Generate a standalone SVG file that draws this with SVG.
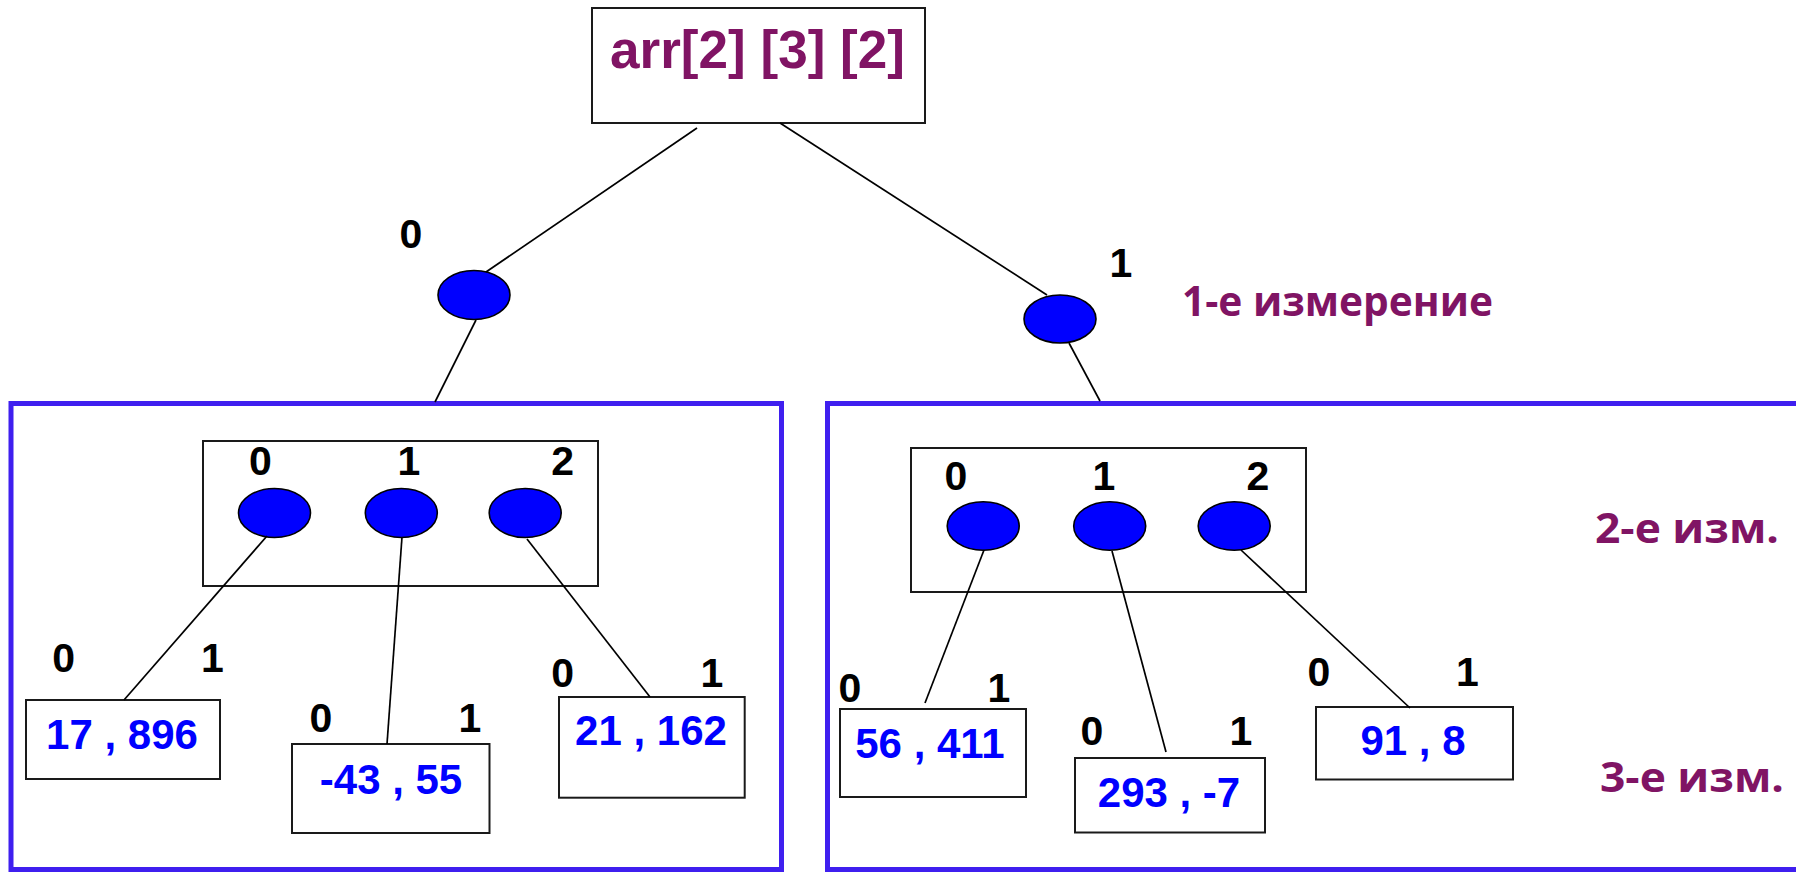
<svg xmlns="http://www.w3.org/2000/svg" width="1796" height="872" viewBox="0 0 1796 872">
<style>
.box{fill:#fff;stroke:#1a1a1a;stroke-width:2}
.grp{fill:none;stroke:#3f1fef;stroke-width:5}
.dot{fill:#0000ff;stroke:#000;stroke-width:1.6}
.ln{stroke:#000;stroke-width:1.7;fill:none}
.idx{font-family:"Liberation Sans",Arial,sans-serif;font-weight:bold;font-size:41px;fill:#000;text-anchor:middle}
.val{font-family:"Liberation Sans",Arial,sans-serif;font-weight:bold;font-size:42px;fill:#0000ff;text-anchor:middle}
.ttl{font-family:"Liberation Sans",Arial,sans-serif;font-weight:bold;font-size:53px;fill:#801464}
.dim{font-family:"Open Sans","Noto Sans",sans-serif;font-weight:bold;font-size:42px;fill:#801464}
</style>
<rect width="1796" height="872" fill="#fff"/>

<g id="root">
<rect class="box" x="592" y="8" width="333" height="115"/>
<text class="ttl" x="610" y="68" textLength="295" lengthAdjust="spacingAndGlyphs">arr[2] [3] [2]</text>
</g>

<g id="dim1-0">
<ellipse class="dot" cx="474" cy="295" rx="36" ry="24.5"/>
<text class="idx" x="411" y="248">0</text>
</g>
<g id="dim1-1">
<ellipse class="dot" cx="1060" cy="319" rx="36" ry="24"/>
<text class="idx" x="1121" y="277">1</text>
</g>

<g id="group-left">
<rect class="grp" x="11" y="403.5" width="770.5" height="466"/>
</g>
<g id="group-right">
<rect class="grp" x="827.5" y="403.5" width="1040" height="466"/>
</g>

<g id="dim2-left">
<rect class="box" x="203" y="441" width="395" height="145"/>
<ellipse class="dot" cx="274.5" cy="513" rx="36" ry="24.5"/>
<ellipse class="dot" cx="401.3" cy="513" rx="36" ry="24.5"/>
<ellipse class="dot" cx="525.2" cy="513" rx="36" ry="24.5"/>
<text class="idx" x="260.5" y="475">0</text>
<text class="idx" x="409" y="475">1</text>
<text class="idx" x="562.7" y="475">2</text>
</g>
<g id="dim2-right">
<rect class="box" x="911" y="448" width="395" height="144"/>
<ellipse class="dot" cx="983.2" cy="526" rx="36" ry="24.3"/>
<ellipse class="dot" cx="1109.7" cy="526" rx="36" ry="24.3"/>
<ellipse class="dot" cx="1234.2" cy="526" rx="36" ry="24.3"/>
<text class="idx" x="956" y="490">0</text>
<text class="idx" x="1104" y="490">1</text>
<text class="idx" x="1257.8" y="490">2</text>
</g>

<g id="cell-17-896">
<rect class="box" x="26" y="700" width="194" height="79"/>
<text class="val" x="122" y="749">17 , 896</text>
<text class="idx" x="63.7" y="672">0</text>
<text class="idx" x="212.5" y="672">1</text>
</g>
<g id="cell-m43-55">
<rect class="box" x="292" y="744" width="197.5" height="89"/>
<text class="val" x="391" y="794">-43 , 55</text>
<text class="idx" x="321" y="732">0</text>
<text class="idx" x="470" y="732">1</text>
</g>
<g id="cell-21-162">
<rect class="box" x="559" y="697" width="185.7" height="100.7"/>
<text class="val" x="651" y="745">21 , 162</text>
<text class="idx" x="562.7" y="687">0</text>
<text class="idx" x="712" y="687">1</text>
</g>
<g id="cell-56-411">
<rect class="box" x="840" y="709" width="186" height="88"/>
<text class="val" x="930" y="758">56 , 411</text>
<text class="idx" x="850" y="702">0</text>
<text class="idx" x="999" y="702">1</text>
</g>
<g id="cell-293-m7">
<rect class="box" x="1075" y="758" width="190" height="74.5"/>
<text class="val" x="1169" y="807">293 , -7</text>
<text class="idx" x="1092" y="745">0</text>
<text class="idx" x="1241" y="745">1</text>
</g>
<g id="cell-91-8">
<rect class="box" x="1316" y="707" width="197" height="72.5"/>
<text class="val" x="1413" y="755">91 , 8</text>
<text class="idx" x="1319" y="686">0</text>
<text class="idx" x="1467.5" y="686">1</text>
</g>

<g id="labels">
<text class="dim" x="1182" y="316" textLength="311" lengthAdjust="spacingAndGlyphs">1-е измерение</text>
<text class="dim" x="1595" y="543" textLength="184" lengthAdjust="spacingAndGlyphs">2-е изм.</text>
<text class="dim" x="1600" y="792" textLength="184" lengthAdjust="spacingAndGlyphs">3-е изм.</text>
</g>

<g id="connectors">
<line class="ln" x1="697" y1="128" x2="486" y2="272"/>
<line class="ln" x1="780" y1="123" x2="1047" y2="295"/>
<line class="ln" x1="476" y1="320" x2="435" y2="402"/>
<line class="ln" x1="1069" y1="343" x2="1100" y2="401"/>
<line class="ln" x1="267" y1="536" x2="124" y2="700"/>
<line class="ln" x1="402" y1="537" x2="387" y2="744"/>
<line class="ln" x1="527" y1="539" x2="650" y2="697"/>
<line class="ln" x1="984" y1="550" x2="925" y2="703"/>
<line class="ln" x1="1112" y1="551" x2="1166" y2="752"/>
<line class="ln" x1="1241" y1="550" x2="1410" y2="708"/>
</g>
</svg>
